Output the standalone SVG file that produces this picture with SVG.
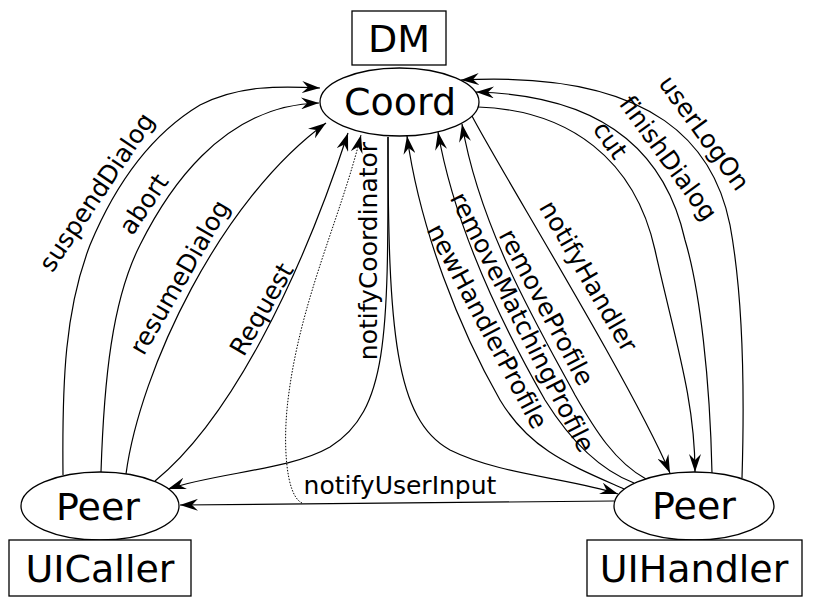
<svg xmlns="http://www.w3.org/2000/svg" width="815" height="612" viewBox="0 0 815 612">
<style>
.node{fill:#fff;stroke:#000;stroke-width:1.3}
.nt{font-family:"DejaVu Sans",Verdana,sans-serif;font-size:38px;text-anchor:middle;fill:#000}
.lb{font-family:"DejaVu Sans",Verdana,sans-serif;font-size:25px;text-anchor:middle;fill:#000}
.e{fill:none;stroke:#000;stroke-width:1.2;marker-end:url(#arr)}
.d{fill:none;stroke:#000;stroke-width:1;stroke-dasharray:1.5,1.5;marker-end:url(#arr)}
</style>
<defs>
<marker id="arr" viewBox="0 0 18 12" refX="18" refY="6" markerWidth="18" markerHeight="12" markerUnits="userSpaceOnUse" orient="auto">
<path d="M0,0 L18,6 L0,12 L6,6 z" fill="#000"/>
</marker>
</defs>
<rect width="815" height="612" fill="#fff"/>
<g id="edges">
<path class="e" d="M63,475 C62,380 65,310 90,245 C115,185 150,135 200,105 C240,85 280,86 320,88"/>
<path class="e" d="M101,472 C104,380 112,300 140,245 C165,195 220,105 319,103"/>
<path class="e" d="M126,474 C140,370 220,200 326,123"/>
<path class="e" d="M155,481 C230,420 300,280 348,133"/>
<path class="d" d="M302,503 C285,495 283,440 288,400 C300,300 340,220 361,135"/>
<path class="e" d="M388,137 C388,330 390,410 330,447 C290,470 220,472 168,489"/>
<path class="e" d="M388,137 C388,330 395,420 450,450 C500,475 570,478 618,494"/>
<path class="e" d="M614,501 L180,505"/>
<path class="e" d="M624,489 C570,465 530,450 500,400 C460,330 420,230 407,136"/>
<path class="e" d="M634,483 C600,470 570,440 545,400 C505,330 455,230 438,132"/>
<path class="e" d="M646,479 C615,462 595,430 575,395 C540,330 480,230 462,124"/>
<path class="e" d="M472,116 C500,170 630,380 670,473"/>
<path class="e" d="M478,107 C570,110 635,160 655,250 C675,340 695,400 695,472"/>
<path class="e" d="M712,473 C710,380 700,290 685,240 C665,150 600,95 476,92"/>
<path class="e" d="M742,478 C745,380 742,290 730,225 C715,150 660,70 461,80"/>
</g>
<g id="labels">
<text class="lb" transform="translate(98,193) rotate(-56)" y="7">suspendDialog</text>
<text class="lb" transform="translate(145,205) rotate(-56)" y="7">abort</text>
<text class="lb" transform="translate(181,278) rotate(-60)" y="7">resumeDialog</text>
<text class="lb" transform="translate(263,310) rotate(-60)" y="7">Request</text>
<text class="lb" transform="translate(370,251) rotate(-90)" y="7">notifyCoordinator</text>
<text class="lb" x="400" y="494">notifyUserInput</text>
<text class="lb" transform="translate(486,327) rotate(62)" y="7">newHandlerProfile</text>
<text class="lb" transform="translate(521,323) rotate(63)" y="7">removeMatchingProfile</text>
<text class="lb" transform="translate(545,308) rotate(62)" y="7">removeProfile</text>
<text class="lb" transform="translate(587,277) rotate(60)" y="7">notifyHandler</text>
<text class="lb" transform="translate(609,141) rotate(55)" y="7">cut</text>
<text class="lb" transform="translate(667,159) rotate(54)" y="7">finishDialog</text>
<text class="lb" transform="translate(703,134) rotate(54)" y="7">userLogOn</text>
</g>
<g id="DM">
<rect class="node" x="352" y="11" width="94" height="54"/>
<text class="nt" x="399" y="52">DM</text>
</g>
<g id="Coord">
<ellipse class="node" cx="399.5" cy="102" rx="79.5" ry="34"/>
<text class="nt" x="400" y="115">Coord</text>
</g>
<g id="PeerCaller">
<ellipse class="node" cx="100" cy="506" rx="79" ry="34"/>
<text class="nt" x="98" y="520">Peer</text>
</g>
<g id="UICaller">
<rect class="node" x="9" y="540" width="182" height="56"/>
<text class="nt" x="100" y="582">UICaller</text>
</g>
<g id="PeerHandler">
<ellipse class="node" cx="694" cy="506" rx="80" ry="34"/>
<text class="nt" x="694" y="519">Peer</text>
</g>
<g id="UIHandler">
<rect class="node" x="587" y="540" width="215" height="56"/>
<text class="nt" x="694" y="582">UIHandler</text>
</g>
</svg>
